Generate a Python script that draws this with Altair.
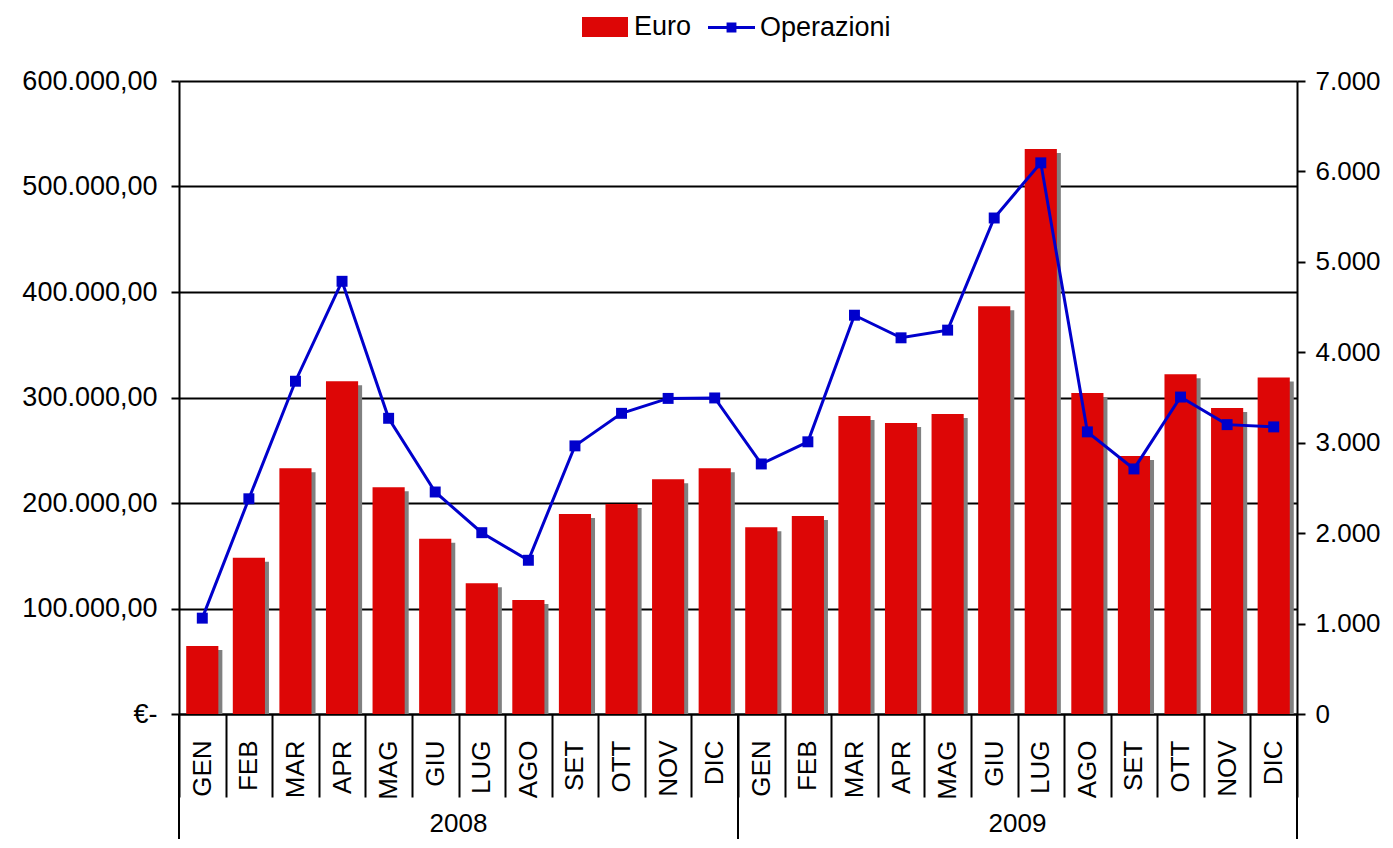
import altair as alt
import pandas as pd

years = ["2008", "2009"]
months = ["GEN", "FEB", "MAR", "APR", "MAG", "GIU", "LUG", "AGO", "SET", "OTT", "NOV", "DIC"]

euro_2008 = [64500, 148000, 233000, 315500, 215000, 166000, 124000, 108000, 189500, 199000, 222500, 233000]
euro_2009 = [177000, 187700, 282500, 275800, 284400, 386500, 535500, 304300, 244500, 322000, 290000, 319000]
ops_2008 = [1060, 2380, 3680, 4785, 3270, 2455, 2005, 1700, 2965, 3325, 3490, 3495]
ops_2009 = [2765, 3010, 4410, 4160, 4245, 5485, 6095, 3120, 2710, 3505, 3200, 3175]

keys = [f"{y}|{m}" for y in years for m in months]
df = pd.DataFrame({
    "key": keys,
    "euro": euro_2008 + euro_2009,
    "ops": ops_2008 + ops_2009,
})

RED = "#DD0606"
BLUE = "#0000CC"
SHADOW = "#808080"
FONT = "Liberation Sans"

H = 633
W = 1118

xscale = alt.Scale(domain=keys, paddingInner=0, paddingOuter=0)
xaxis = alt.Axis(
    title=None,
    labelExpr="split(datum.value, '|')[1]",
    labelAngle=270,
    labelFontSize=26,
    labelPadding=-57,
    tickBand="extent",
    tickSize=83,
    tickWidth=2,
    tickColor="black",
    domainColor="black",
    domainWidth=2,
    labelColor="black",
    labelFont=FONT,
)

left_axis = alt.Axis(
    title=None,
    values=[0, 100000, 200000, 300000, 400000, 500000, 600000],
    labelExpr="datum.value == 0 ? '€-' : format(datum.value / 1000, 'd') + '.000,00'",
    grid=True,
    gridColor="black",
    gridWidth=2,
    gridOpacity=1,
    tickSize=8,
    tickWidth=2,
    tickColor="black",
    domainColor="black",
    domainWidth=2,
    labelPadding=14,
    labelFontSize=27,
    labelColor="black",
    labelFont=FONT,
)
right_axis = alt.Axis(
    title=None,
    orient="right",
    values=[0, 1000, 2000, 3000, 4000, 5000, 6000, 7000],
    labelExpr="datum.value == 0 ? '0' : format(datum.value / 1000, 'd') + '.000'",
    grid=False,
    tickSize=8,
    tickWidth=2,
    tickColor="black",
    domainColor="black",
    domainWidth=2,
    labelPadding=10,
    labelFontSize=26,
    labelColor="black",
    labelFont=FONT,
)

yleft = alt.Scale(domain=[0, 600000], nice=False)
yright = alt.Scale(domain=[0, 7000], nice=False)

base = alt.Chart(df)

shadow = base.mark_bar(width={"band": 0.69}, color=SHADOW, xOffset=4, yOffset=4, clip=True).encode(
    x=alt.X("key:N", scale=xscale, axis=xaxis, sort=keys),
    y=alt.Y("euro:Q", scale=yleft, axis=left_axis),
)
bars = base.transform_calculate(serie="'Euro'").mark_bar(width={"band": 0.69}).encode(
    x=alt.X("key:N", scale=xscale, axis=xaxis, sort=keys),
    y=alt.Y("euro:Q", scale=yleft, axis=left_axis),
    fill=alt.Fill(
        "serie:N",
        scale=alt.Scale(domain=["Euro"], range=[RED]),
        legend=alt.Legend(
            title=None,
            orient="none",
            legendX=403,
            legendY=-77,
            symbolType="M-1,-0.43H1V0.43H-1Z",
            symbolSize=2116,
            symbolStrokeWidth=0,
            labelFontSize=27,
            labelFont=FONT,
            labelColor="black",
            labelOffset=6,
            padding=0,
        ),
    ),
)
left = alt.layer(shadow, bars)

line = base.transform_calculate(serie2="'Operazioni'").mark_line(strokeWidth=3).encode(
    x=alt.X("key:N", scale=xscale, axis=xaxis, sort=keys),
    y=alt.Y("ops:Q", scale=yright, axis=right_axis),
    stroke=alt.Stroke(
        "serie2:N",
        scale=alt.Scale(domain=["Operazioni"], range=[BLUE]),
        legend=alt.Legend(
            title=None,
            orient="none",
            legendX=529,
            legendY=-77,
            symbolType="M-1,-0.065H1V0.065H-1Z M-0.21,-0.21H0.21V0.21H-0.21Z",
            symbolSize=2209,
            symbolFillColor=BLUE,
            symbolStrokeWidth=0,
            labelFontSize=27,
            labelFont=FONT,
            labelColor="black",
            labelOffset=5,
            padding=0,
        ),
    ),
)
points = base.mark_square(size=120, color=BLUE, opacity=1, filled=True).encode(
    x=alt.X("key:N", scale=xscale, axis=xaxis, sort=keys),
    y=alt.Y("ops:Q", scale=yright, axis=right_axis),
)
right = alt.layer(line, points)

# year group separators and labels
sep_start = pd.DataFrame({"key": ["2008|GEN", "2009|GEN"]})
sep_end = pd.DataFrame({"key": ["2009|DIC"]})
year_df = pd.DataFrame({"key": ["2008|GIU", "2009|GIU"], "year": years})

rule_a = alt.Chart(sep_start).mark_rule(color="black", strokeWidth=2).encode(
    x=alt.X("key:N", scale=xscale, axis=xaxis, sort=keys, bandPosition=0),
    y=alt.value(H),
    y2=alt.value(H + 140),
)
rule_b = alt.Chart(sep_end).mark_rule(color="black", strokeWidth=2).encode(
    x=alt.X("key:N", scale=xscale, axis=xaxis, sort=keys, bandPosition=1),
    y=alt.value(H),
    y2=alt.value(H + 140),
)
year_text = alt.Chart(year_df).mark_text(
    fontSize=26, font=FONT, color="black", baseline="middle", align="center"
).encode(
    x=alt.X("key:N", scale=xscale, axis=xaxis, sort=keys, bandPosition=1),
    y=alt.value(H + 110),
    text="year:N",
)

chart = alt.layer(left, right, rule_a, rule_b, year_text).resolve_scale(
    y="independent", fill="independent", stroke="independent"
).properties(
    width=W,
    height=H,
    autosize=alt.AutoSizeParams(type="none"),
    padding={"left": 171, "top": 73, "right": 86, "bottom": 125},
).configure_view(
    fill="#CCCCCC",
    stroke="black",
    strokeWidth=2,
).configure(background="white")

chart.save("out.html", embed_options={"renderer": "svg", "actions": False})
